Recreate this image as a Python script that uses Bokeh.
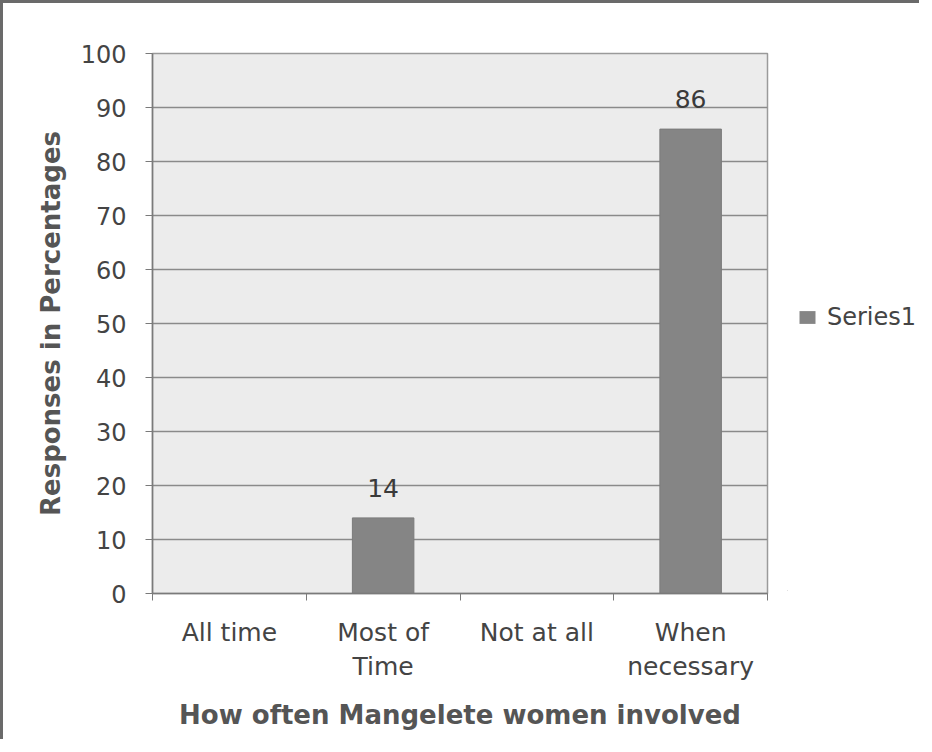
from bokeh.plotting import figure
from bokeh.models import (ColumnDataSource, FixedTicker, Range1d, Legend, LegendItem,
                          LabelSet)
from bokeh.layouts import row
from bokeh.core.properties import value
from bokeh.embed import file_html
from bokeh.resources import INLINE
import numpy as np

# ---- data ----
categories = ["All time", "Most of Time", "Not at all", "When necessary"]
tick_labels = ["All time", "Most of\nTime", "Not at all", "When\nnecessary"]
values = [0, 14, 0, 86]
data_labels = ["", "14", "", "86"]
y_ticks = list(range(0, 101, 10))
series_name = "Series1"
x_title = "How often Mangelete women involved"
y_title = "Responses in Percentages"

FONT = "DejaVu Sans"
BAR = "#858585"
xs = np.arange(len(categories)) + 0.5
boundaries = list(np.arange(len(categories) + 1))

src = ColumnDataSource(dict(x=xs, top=values, cat=categories, lbl=data_labels))

p = figure(frame_width=612, frame_height=537, x_range=Range1d(0, len(categories)),
           y_range=Range1d(0, 100), output_backend="svg", toolbar_location=None,
           min_border_left=149, min_border_right=23, min_border_top=50,
           min_border_bottom=149)
p.background_fill_color = "#ececec"
p.border_fill_color = "white"
p.outline_line_color = "#9a9a9a"
p.outline_line_width = 1.5
p.styles = {"border-left": "3px solid #6a6a6a", "border-top": "3px solid #6a6a6a"}

r = p.vbar(x="x", top="top", width=0.4, bottom=0, source=src,
           fill_color=BAR, line_color="#7a7a7a")

labels = LabelSet(x="x", y="top", text="lbl", source=src, text_align="center",
                  text_baseline="bottom", y_offset=21, text_font=value(FONT),
                  text_font_size="25px", text_color="#3a3a3a")
p.add_layout(labels)

# y axis
p.yaxis.ticker = FixedTicker(ticks=y_ticks)
p.yaxis.minor_tick_line_color = None
p.yaxis.major_tick_out = 7
p.yaxis.major_tick_in = 0
p.yaxis.major_tick_line_color = "#7a7a7a"
p.yaxis.axis_line_color = "#7a7a7a"
p.yaxis.axis_line_width = 1.5
p.yaxis.major_label_text_font = FONT
p.yaxis.major_label_text_font_size = "24px"
p.yaxis.major_label_text_color = "#444444"
p.yaxis.major_label_standoff = 19
p.yaxis.axis_label = y_title
p.yaxis.axis_label_text_font = FONT
p.yaxis.axis_label_text_font_style = "bold"
p.yaxis.axis_label_text_font_size = "26px"
p.yaxis.axis_label_text_color = "#555555"
p.yaxis.axis_label_standoff = 12

# x axis
p.xaxis.ticker = FixedTicker(ticks=list(xs), minor_ticks=boundaries)
p.xaxis.major_label_overrides = {float(x): t for x, t in zip(xs, tick_labels)}
p.xaxis.major_tick_line_color = None
p.xaxis.major_tick_out = 0
p.xaxis.major_tick_in = 0
p.xaxis.minor_tick_line_color = "#7a7a7a"
p.xaxis.minor_tick_out = 7
p.xaxis.minor_tick_in = 0
p.xaxis.axis_line_color = "#7a7a7a"
p.xaxis.axis_line_width = 1.5
p.xaxis.major_label_text_font = FONT
p.xaxis.major_label_text_font_size = "25px"
p.xaxis.major_label_text_color = "#444444"
p.xaxis.major_label_standoff = 17
p.xaxis.axis_label = x_title
p.xaxis.axis_label_text_font = FONT
p.xaxis.axis_label_text_font_style = "bold"
p.xaxis.axis_label_text_font_size = "26px"
p.xaxis.axis_label_text_color = "#555555"
p.xaxis.axis_label_standoff = 16

# grid
p.xgrid.grid_line_color = None
p.ygrid.ticker = FixedTicker(ticks=y_ticks)
p.ygrid.grid_line_color = "#8a8a8a"
p.ygrid.grid_line_width = 1.5

# legend panel (separate small figure so the legend sits outside the plot area);
# its ranges lie away from the bars, so only the legend swatch shows
lg = figure(width=132, height=736, x_range=Range1d(100, 101), y_range=Range1d(200, 300),
            output_backend="svg", toolbar_location=None, min_border=0)
lg.axis.visible = False
lg.grid.grid_line_color = None
lg.outline_line_color = None
lg.background_fill_color = "white"
lg.styles = {"border-top": "3px solid #6a6a6a"}
lr = lg.vbar(x="x", top="top", width=0.4, bottom=0, source=src,
             fill_color=BAR, line_color=None)

legend = Legend(items=[LegendItem(label=series_name, renderers=[lr])],
                location=(10, 259), padding=0, margin=0,
                border_line_color=None, background_fill_alpha=0,
                glyph_width=20, glyph_height=16, label_height=16,
                label_standoff=10, label_text_font=FONT,
                label_text_font_size="24px", label_text_color="#444444")
lg.add_layout(legend, "center")

layout = row(p, lg, spacing=0)
open("out.html", "w").write(file_html(layout, INLINE))
